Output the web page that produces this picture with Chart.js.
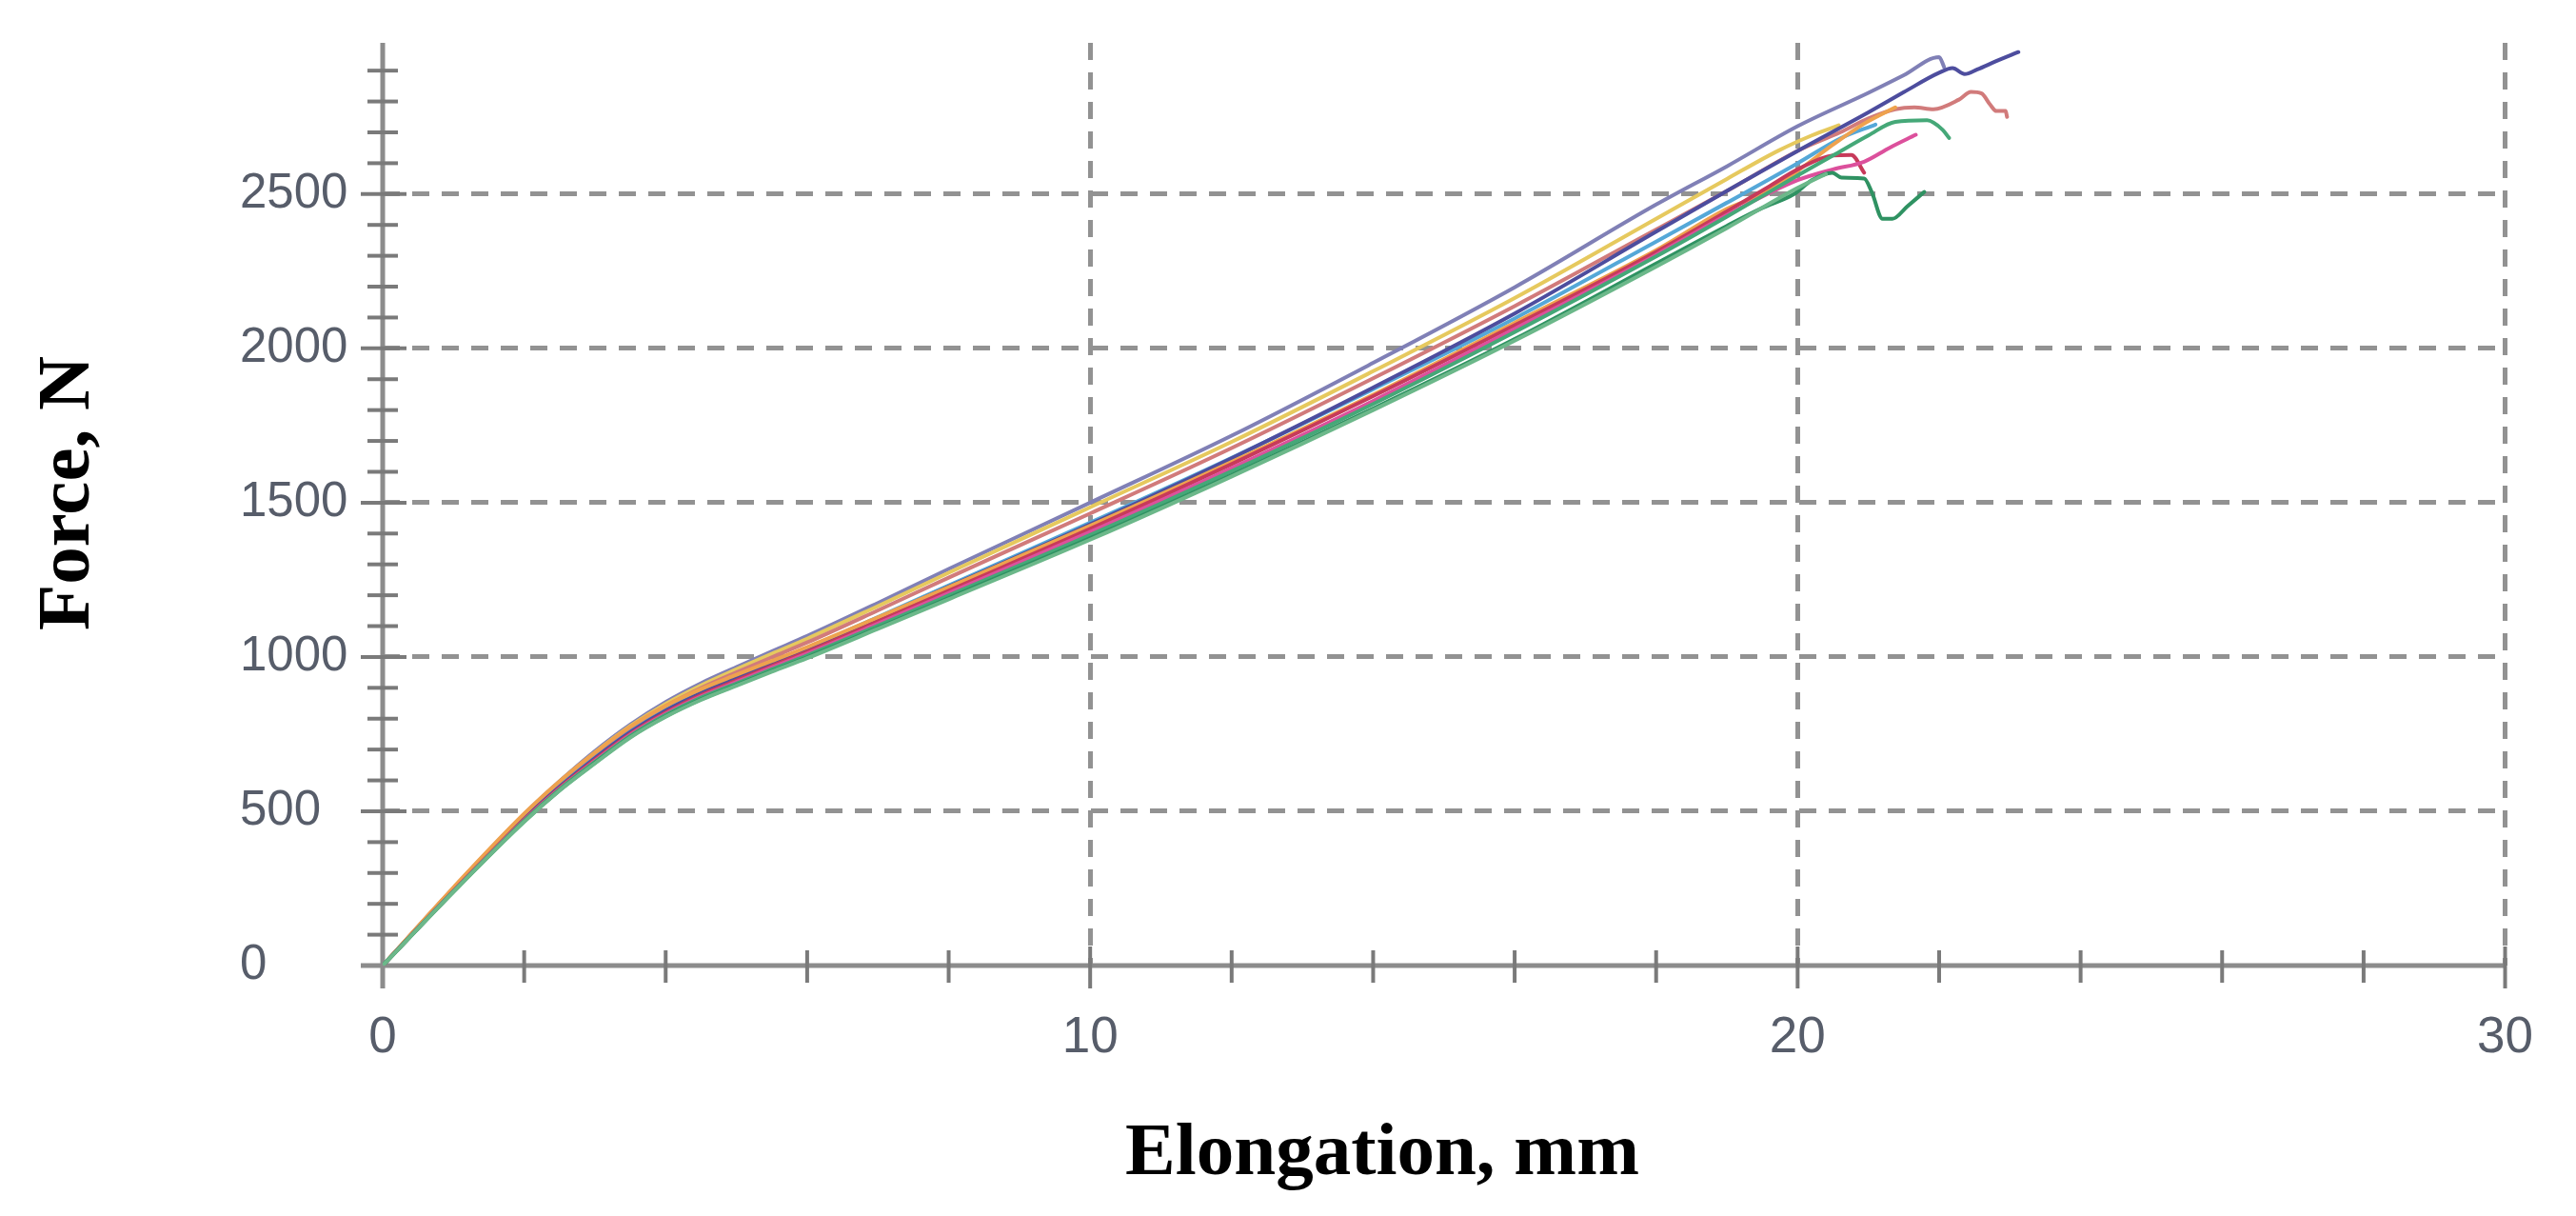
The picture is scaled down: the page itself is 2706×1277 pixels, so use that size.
<!DOCTYPE html>
<html><head><meta charset="utf-8">
<script src="https://cdn.jsdelivr.net/npm/chart.js@4/dist/chart.umd.min.js"></script>
<style>html,body{margin:0;padding:0;background:#fff;}#wrap{width:2706px;height:1277px;}</style>
</head><body><div id="wrap"><canvas id="c" width="2706" height="1277"></canvas></div>
<script>
const xTitle = 'Elongation, mm';
const yTitle = 'Force, N';
const xTickValues = [0, 10, 20, 30];
const xTickLabels = ['0', '10', '20', '30'];
const yTickValues = [0, 500, 1000, 1500, 2000, 2500];
const yTickLabels = ['0', '500', '1000', '1500', '2000', '2500'];

const seriesNames = ['S1','S2','S3','S4','S5','S6','S7','S8','S9','S10','S11'];
const seriesColors = ['#8080b6','#e6c95e','#d17b7b','#55a8d8','#4d4d9e','#eea24e','#c73a5a','#dc509c','#45a878','#2f9262','#6cb88a'];

const s1x = [0,1,2,2.5,3,3.5,4,4.5,5,5.5,6,7,8,10,12,14,16,18,19,20,21,21.5,22,22.07];
const s1y = [0,251,490,597,695,781,854,915,967,1018,1068,1175,1285,1500,1717,1953,2198,2466,2590,2720,2828,2885,2944,2912];
const s2x = [0,1,2,2.5,3,3.5,4,4.5,5,5.5,6,7,8,10,12,14,16,18,19,19.73,20.2,20.58];
const s2y = [0,250,487,593,690,776,848,908,960,1010,1059,1165,1273,1485,1697,1926,2163,2420,2549,2641,2690,2723];
const s3x = [0,1,2,2.5,3,3.5,4,4.5,5,5.5,6,7,8,10,12,14,16,18,19,20,20.6,21,21.38,21.65,21.92,22.28,22.45,22.6,22.72,22.81,22.94,22.96];
const s3y = [0,248,483,588,683,769,840,899,950,999,1047,1151,1257,1465,1677,1903,2137,2385,2510,2640,2700,2745,2775,2781,2775,2806,2831,2826,2790,2769,2769,2750];
const s4x = [0,1,2,2.5,3,3.5,4,4.5,5,5.5,6,7,8,10,12,14,16,18,19,20,20.6,21.1];
const s4y = [0,244,477,581,673,758,828,886,934,982,1029,1129,1232,1435,1645,1868,2097,2346,2472,2600,2680,2725];
const s5x = [0,1,2,2.5,3,3.5,4,4.5,5,5.5,6,7,8,10,12,14,16,18,19,20,21,21.5,22,22.19,22.36,22.54,22.8,23.12];
const s5y = [0,244,476,579,672,756,826,883,932,979,1026,1126,1228,1430,1644,1873,2113,2378,2510,2640,2765,2830,2893,2908,2889,2904,2930,2960];
const s6x = [0,1,2,2.5,3,3.5,4,4.5,5,5.5,6,7,8,10,12,14,16,18,19,19.51,20,20.5,20.94,21.38];
const s6y = [0,253,492,597,690,774,842,896,942,987,1032,1128,1226,1425,1632,1850,2083,2318,2452,2500,2575,2660,2728,2781];
const s7x = [0,1,2,2.5,3,3.5,4,4.5,5,5.5,6,7,8,10,12,14,16,18,19,19.6,20,20.5,20.76,20.94];
const s7y = [0,242,473,576,667,751,820,877,924,971,1017,1115,1215,1415,1625,1845,2075,2313,2444,2525,2580,2625,2627,2569];
const s8x = [0,1,2,2.5,3,3.5,4,4.5,5,5.5,6,7,8,10,12,14,16,18,19,20,20.5,20.94,21.3,21.67];
const s8y = [0,241,471,573,663,748,816,872,919,966,1011,1108,1207,1405,1612,1830,2063,2303,2432,2545,2580,2605,2650,2692];
const s9x = [0,1,2,2.5,3,3.5,4,4.5,5,5.5,6,7,8,10,12,14,16,18,19,20,20.5,21,21.38,21.83,22.05,22.14];
const s9y = [0,240,469,571,660,744,812,868,914,960,1005,1101,1199,1395,1602,1820,2053,2298,2427,2560,2625,2690,2734,2739,2708,2682];
const s10x = [0,1,2,2.5,3,3.5,4,4.5,5,5.5,6,7,8,10,12,14,16,18,19,19.5,19.95,20.2,20.49,20.62,20.94,21.05,21.2,21.34,21.55,21.79];
const s10y = [0,239,467,568,657,741,808,863,909,955,999,1094,1191,1385,1590,1805,2030,2275,2397,2455,2500,2545,2569,2553,2550,2505,2420,2420,2460,2507];
const s11x = [0,1,2,2.5,3,3.5,4,4.5,5,5.5,6,7,8,10,12,14,16,18,19,20,20.4];
const s11y = [0,239,466,567,655,739,806,861,907,952,996,1091,1187,1380,1585,1800,2025,2265,2390,2520,2565];

const allX = [s1x,s2x,s3x,s4x,s5x,s6x,s7x,s8x,s9x,s10x,s11x];
const allY = [s1y,s2y,s3y,s4y,s5y,s6y,s7y,s8y,s9y,s10y,s11y];

const datasets = allX.map((xs, i) => ({
  label: seriesNames[i],
  data: xs.map((x, j) => ({x: x, y: allY[i][j]})),
  borderColor: seriesColors[i],
  borderWidth: 4,
  pointRadius: 0,
  fill: false,
  cubicInterpolationMode: 'monotone'
}));
datasets.reverse();

const axisPlugin = {
  id: 'axesAndTitles',
  beforeDatasetsDraw(chart) {
    const {ctx, chartArea: a, scales: {x, y}} = chart;
    const x0 = x.getPixelForValue(0), y0 = y.getPixelForValue(0);
    const xEnd = x.getPixelForValue(30);
    ctx.save();
    ctx.strokeStyle = '#8c8c8c'; ctx.lineWidth = 5;
    ctx.beginPath(); ctx.moveTo(x0, a.top); ctx.lineTo(x0, y0 + 24); ctx.stroke();
    ctx.beginPath(); ctx.moveTo(x0 - 23, y0); ctx.lineTo(xEnd, y0); ctx.stroke();
    ctx.strokeStyle = '#7a7a7a'; ctx.lineWidth = 4;
    for (let v = 100; v <= 2900; v += 100) {
      const py = y.getPixelForValue(v);
      const major = v % 500 === 0;
      ctx.beginPath(); ctx.moveTo(x0 - (major ? 23 : 16), py); ctx.lineTo(x0 + (major ? 25 : 16), py); ctx.stroke();
    }
    for (let v = 2; v <= 30; v += 2) {
      const px = x.getPixelForValue(v);
      const major = v % 10 === 0;
      ctx.beginPath(); ctx.moveTo(px, y0 + (major ? 24 : 18)); ctx.lineTo(px, y0 - (major ? 20 : 16)); ctx.stroke();
    }
    ctx.restore();
  },
  afterDraw(chart) {
    const {ctx} = chart;
    ctx.save();
    ctx.fillStyle = '#000';
    ctx.font = 'bold 79px "Liberation Serif", "Times New Roman", serif';
    ctx.textAlign = 'center';
    ctx.textBaseline = 'alphabetic';
    ctx.fillText(xTitle, 1452, 1233);
    ctx.translate(93, 518);
    ctx.rotate(-Math.PI / 2);
    ctx.fillText(yTitle, 0, 0);
    ctx.restore();
  }
};

new Chart(document.getElementById('c'), {
  type: 'line',
  data: { datasets: datasets },
  plugins: [axisPlugin],
  options: {
    responsive: false, animation: false, devicePixelRatio: 1,
    layout: { padding: { left: 252, right: 62, top: 45, bottom: 0 } },
    plugins: { legend: { display: false }, tooltip: { enabled: false } },
    elements: { line: { borderCapStyle: 'round', borderJoinStyle: 'round' } },
    scales: {
      x: {
        type: 'linear', min: 0, max: 30,
        afterBuildTicks(s) { s.ticks = xTickValues.map(v => ({value: v})); },
        afterFit(s) { s.height = 263; },
        border: { display: false, dash: [18, 13] },
        grid: { drawTicks: false, color: (c) => (c.tick && c.tick.value > 0) ? '#929292' : 'rgba(0,0,0,0)', lineWidth: 5 },
        ticks: {
          padding: 45, maxRotation: 0, autoSkip: false, color: '#575d6a',
          font: { family: '"Liberation Sans", Arial, sans-serif', size: 53 },
          callback: (v) => { const k = xTickValues.indexOf(v); return k >= 0 ? xTickLabels[k] : ''; }
        }
      },
      y: {
        type: 'linear', min: 0, max: 2990,
        afterBuildTicks(s) { s.ticks = yTickValues.map(v => ({value: v})); },
        afterFit(s) { s.width = 150; },
        border: { display: false, dash: [18, 13] },
        grid: { drawTicks: false, color: (c) => (c.tick && c.tick.value > 0) ? '#929292' : 'rgba(0,0,0,0)', lineWidth: 5 },
        ticks: {
          autoSkip: false, crossAlign: 'far', padding: 0, color: '#575d6a',
          font: { family: '"Liberation Sans", Arial, sans-serif', size: 51 },
          callback: (v) => { const k = yTickValues.indexOf(v); return k >= 0 ? yTickLabels[k] : ''; }
        }
      }
    }
  }
});
</script></body></html>
